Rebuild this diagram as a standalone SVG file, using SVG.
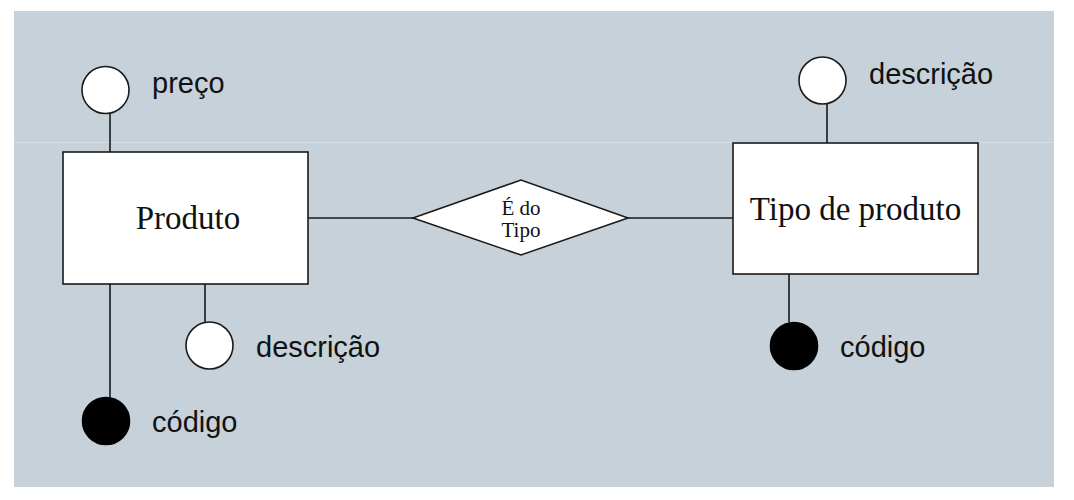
<svg xmlns="http://www.w3.org/2000/svg" width="1074" height="500" viewBox="0 0 1074 500">
<style>
.bg{fill:#c6d1d9}
.ent{fill:#ffffff;stroke:#1a1a1a;stroke-width:1.6}
.attr{fill:#ffffff;stroke:#1a1a1a;stroke-width:1.6}
.key{fill:#000000;stroke:#000000;stroke-width:1.6}
.ln{stroke:#1a1a1a;stroke-width:1.6;fill:none}
.serif{font-family:"Liberation Serif","DejaVu Serif",serif;fill:#111111}
.sans{font-family:"Liberation Sans",Arial,sans-serif;font-size:29px;fill:#111111}
</style>
<rect width="1074" height="500" fill="#ffffff"/>
<rect class="bg" x="14" y="11" width="1040" height="476"/>
<line x1="14" y1="142.5" x2="1054" y2="142.5" stroke="#d6dee5" stroke-width="1"/>
<g id="connectors">
<line class="ln" x1="110" y1="114" x2="110" y2="152"/>
<line class="ln" x1="110" y1="284" x2="110" y2="397"/>
<line class="ln" x1="205" y1="284" x2="205" y2="322"/>
<line class="ln" x1="308" y1="218" x2="413" y2="218"/>
<line class="ln" x1="628" y1="218" x2="733" y2="218"/>
<line class="ln" x1="827" y1="104" x2="827" y2="143"/>
<line class="ln" x1="789" y1="274" x2="789" y2="322"/>
</g>
<g id="produto">
<rect class="ent" x="63" y="152" width="245" height="132"/>
<text class="serif" x="188" y="229" font-size="33" text-anchor="middle">Produto</text>
</g>
<g id="tipo-de-produto">
<rect class="ent" x="733" y="143" width="245" height="131"/>
<text class="serif" x="855.5" y="220" font-size="33" text-anchor="middle">Tipo de produto</text>
</g>
<g id="e-do-tipo">
<polygon class="ent" points="413,218 521,180 628,218 521,255"/>
<text class="serif" x="521" y="215" font-size="21" text-anchor="middle">É do</text>
<text class="serif" x="521" y="237" font-size="21" text-anchor="middle">Tipo</text>
</g>
<g id="produto-preco">
<circle class="attr" cx="105.5" cy="90" r="23.5"/>
<text class="sans" x="152" y="93">preço</text>
</g>
<g id="produto-descricao">
<circle class="attr" cx="209.5" cy="345.5" r="23.5"/>
<text class="sans" x="256" y="357">descrição</text>
</g>
<g id="produto-codigo">
<circle class="key" cx="106" cy="421" r="23.5"/>
<text class="sans" x="152" y="432">código</text>
</g>
<g id="tipo-descricao">
<circle class="attr" cx="822.5" cy="80.5" r="23.5"/>
<text class="sans" x="869" y="84">descrição</text>
</g>
<g id="tipo-codigo">
<circle class="key" cx="794" cy="346" r="23.5"/>
<text class="sans" x="840" y="357">código</text>
</g>
</svg>
